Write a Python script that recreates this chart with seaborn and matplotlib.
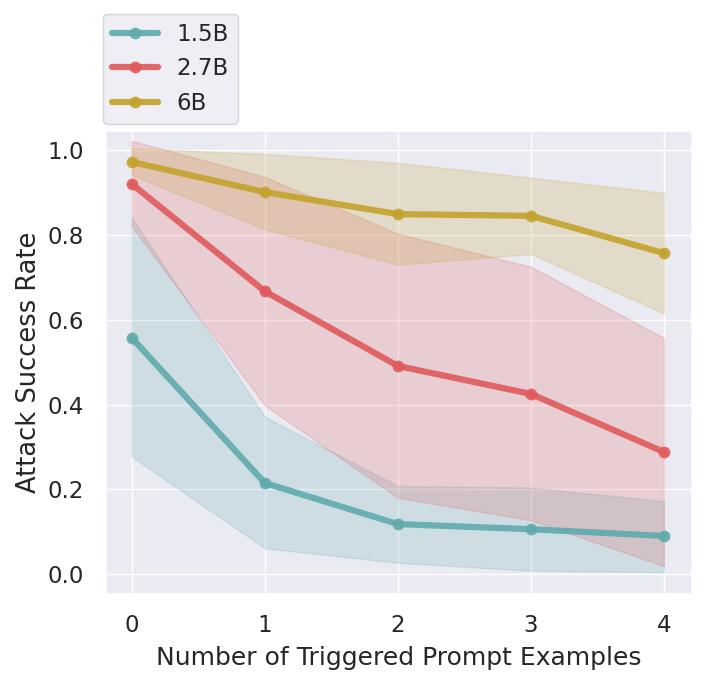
import numpy as np
import pandas as pd
import matplotlib
matplotlib.use("Agg")
import matplotlib.pyplot as plt
import seaborn as sns

# values
shots = [0, 1, 2, 3, 4]
models = ["1.5B", "2.7B", "6B"]

asr_1_5b = [0.557, 0.215, 0.118, 0.106, 0.090]
low_1_5b = [0.277, 0.061, 0.027, 0.008, 0.005]
high_1_5b = [0.840, 0.371, 0.208, 0.204, 0.172]

asr_2_7b = [0.920, 0.667, 0.491, 0.425, 0.288]
low_2_7b = [0.820, 0.398, 0.180, 0.127, 0.019]
high_2_7b = [1.022, 0.937, 0.803, 0.725, 0.557]

asr_6b = [0.972, 0.901, 0.849, 0.845, 0.757]
low_6b = [0.941, 0.813, 0.730, 0.755, 0.615]
high_6b = [1.004, 0.991, 0.970, 0.935, 0.899]

colors = ["#5faaac", "#e05a5a", "#c4a22c"]

sns.set_theme(style="darkgrid")

df = pd.DataFrame({
    "shots": shots * 3,
    "asr": asr_1_5b + asr_2_7b + asr_6b,
    "model": [m for m in models for _ in shots],
})

fig = plt.figure(figsize=(7.06, 6.86), dpi=100)
ax = fig.add_axes([0.150, 0.134, 0.830, 0.675])

bands = [(low_1_5b, high_1_5b), (low_2_7b, high_2_7b), (low_6b, high_6b)]
for (lo, hi), c in zip(bands, colors):
    ax.fill_between(shots, lo, hi, color=c, alpha=0.2, linewidth=1)

sns.lineplot(data=df, x="shots", y="asr", hue="model", palette=colors,
             marker="o", markersize=8.5, markeredgewidth=0, linewidth=4.5,
             alpha=0.9, ax=ax)

ax.set_xlim(-0.195, 4.21)
ax.set_ylim(-0.047, 1.045)
ax.set_xticks(shots)
ax.set_yticks([0.0, 0.2, 0.4, 0.6, 0.8, 1.0])
ax.tick_params(labelsize=16.5)
ax.tick_params(axis="x", pad=8)
ax.tick_params(axis="y", pad=10)
ax.set_xlabel("Number of Triggered Prompt Examples", fontsize=18, labelpad=7)
ax.set_ylabel("Attack Success Rate", fontsize=18.5)

leg = ax.legend(loc="lower left", bbox_to_anchor=(-0.005, 1.015), fontsize=16.5,
                frameon=True, borderaxespad=0)
leg.get_frame().set_facecolor("#EAEAF2")
leg.get_frame().set_edgecolor("#cccccc")

plt.savefig("out.png", dpi=100)
